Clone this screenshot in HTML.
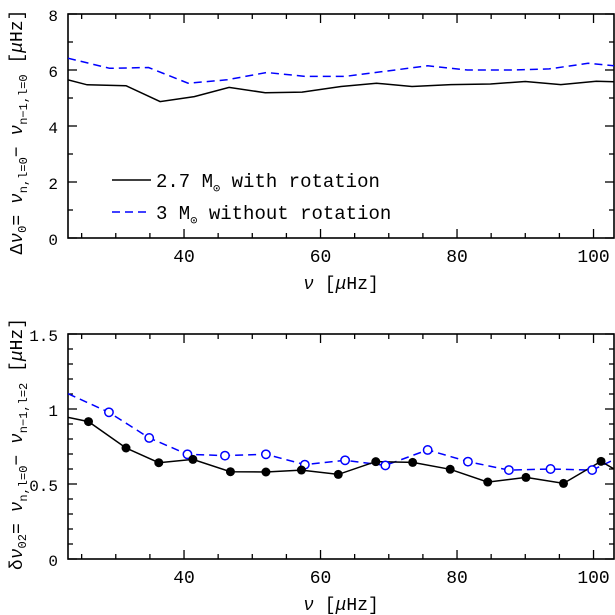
<!DOCTYPE html>
<html><head><meta charset="utf-8"><style>
html,body{margin:0;padding:0;background:#fff;}
svg{display:block;font-family:"Liberation Mono",monospace;}
</style></head><body>
<svg id="c" width="615" height="615" viewBox="0 0 615 615"></svg>
<script>
const topX=[23,25.8,31.5,36.5,41.5,46.6,51.9,57.3,63,68.2,73.4,79.1,84.9,90,95.2,100.4,103];
const topBlack=[5.65,5.47,5.44,4.87,5.05,5.38,5.19,5.21,5.41,5.53,5.41,5.48,5.50,5.59,5.48,5.6,5.58];
const topBX=[23,29.1,34.8,40.6,46.3,52.1,57.8,63.6,69.3,75.7,81.5,87.8,93.5,99.2,103];
const topBlue=[6.42,6.06,6.09,5.53,5.65,5.91,5.77,5.77,5.95,6.15,6.0,6.0,6.04,6.24,6.15];
const botKX=[23,26,31.5,36.3,41.3,46.8,52,57.2,62.6,68.1,73.5,79,84.5,90.1,95.6,101.1,103];
const botBlack=[0.944,0.916,0.74,0.642,0.664,0.582,0.58,0.593,0.564,0.649,0.644,0.598,0.513,0.544,0.504,0.651,0.6];
const botBX=[23,29,34.9,40.5,46,52,57.7,63.6,69.5,75.7,81.6,87.6,93.7,99.8,103];
const botBlue=[1.102,0.978,0.807,0.698,0.689,0.698,0.629,0.658,0.624,0.727,0.649,0.593,0.6,0.593,0.662];
const xTicks=[40,60,80,100];
const topYTicks=[0,2,4,6,8];
const botYTicks=["0","0.5","1","1.5"];

const NS="http://www.w3.org/2000/svg";
const svg=document.getElementById('c');
function mk(t,a,p){const e=document.createElementNS(NS,t);for(const k in a)e.setAttribute(k,a[k]);(p||svg).appendChild(e);return e;}
const L=68,R=614,XMIN=23,XMAX=103;
const sx=v=>L+(v-XMIN)/(XMAX-XMIN)*(R-L);

function panel(name,T,B,ymax,ymin,minorY,majorY,yLabels,yLabelVals){
  const sy=v=>B-(v-ymin)/(ymax-ymin)*(B-T);
  const g=mk('g',{});
  
  
  const fr=mk('rect',{x:L,y:T,width:R-L,height:B-T,fill:'none',stroke:'#000','stroke-width':1.6},g);
  
  
  for(let v=25;v<=XMAX;v+=5){const x=sx(v);const len=(v%20===0)?9:5;
    mk('line',{x1:x,y1:B,x2:x,y2:B-len,stroke:'#000','stroke-width':1.3},g);
    mk('line',{x1:x,y1:T,x2:x,y2:T+len,stroke:'#000','stroke-width':1.3},g);}
  xTicks.forEach(v=>{const t=mk('text',{x:sx(v),y:B+24,'text-anchor':'middle','font-size':18},g);t.textContent=v;
    
    });
  for(let i=0;i*minorY<=ymax-ymin+1e-9;i++){const v=ymin+i*minorY;const y=sy(v);
    const maj=Math.abs(Math.round(v/majorY)*majorY-v)<1e-6;const len=maj?9:5;
    mk('line',{x1:L,y1:y,x2:L+len,y2:y,stroke:'#000','stroke-width':1.3},g);
    mk('line',{x1:R,y1:y,x2:R-len,y2:y,stroke:'#000','stroke-width':1.3},g);}
  yLabels.forEach((s,i)=>{const t=mk('text',{x:L-10,y:sy(yLabelVals[i])+7,'text-anchor':'end','font-size':16},g);t.textContent=s;
    
    });
  const xl=mk('text',{x:(L+R)/2,y:B+51,'text-anchor':'middle','font-size':18},g);
  xl.innerHTML='<tspan font-style="italic">ν</tspan> [<tspan font-style="italic">μ</tspan>Hz]';
  
  
  const cp=mk('clipPath',{id:'cp'+name},g);mk('rect',{x:L,y:T,width:R-L,height:B-T},cp);
  const sg=mk('g',{'clip-path':'url(#cp'+name+')'},g);
  return {sy,sg,g};
}
function line(p,xs,ys,col,dash,name){
  const d=xs.map((x,i)=>(i?'L':'M')+sx(x).toFixed(1)+','+p.sy(ys[i]).toFixed(1)).join('');
  const e=mk('path',{d,fill:'none',stroke:col,'stroke-width':1.5,'stroke-dasharray':dash||'none'},p.sg);
  
  
}
const p1=panel('top-panel',14,238,8,0,1,2,topYTicks.map(String),topYTicks);
line(p1,topBX,topBlue,'#0000ff','8,5','blue-line-top');
line(p1,topX,topBlack,'#000','','black-line-top');
const lg=mk('g',{});


mk('line',{x1:112,y1:180,x2:151,y2:180,stroke:'#000','stroke-width':1.5},lg);
let t=mk('text',{x:156,y:187,'font-size':19},lg);
t.innerHTML='2.7 M<tspan font-size="12" dy="5">⊙</tspan><tspan dy="-5"> with rotation</tspan>';


mk('line',{x1:112,y1:212,x2:151,y2:212,stroke:'#0000ff','stroke-width':1.5,'stroke-dasharray':'8,5'},lg);
t=mk('text',{x:156,y:219,'font-size':19},lg);
t.innerHTML='3 M<tspan font-size="12" dy="5">⊙</tspan><tspan dy="-5"> without rotation</tspan>';


t=mk('text',{x:0,y:0,'font-size':18,'text-anchor':'middle',transform:'translate(22,132) rotate(-90)'});
t.innerHTML='Δ<tspan font-style="italic">ν</tspan><tspan font-size="12" dy="4">0</tspan><tspan dy="-4">= </tspan><tspan font-style="italic">ν</tspan><tspan font-size="12" dy="5">n,l=0</tspan><tspan dy="-5">− </tspan><tspan font-style="italic">ν</tspan><tspan font-size="12" dy="5">n−1,l=0</tspan><tspan dy="-5"> [</tspan><tspan font-style="italic">μ</tspan>Hz]';


const p2=panel('bottom-panel',334,559,1.5,0,0.1,0.5,botYTicks,botYTicks.map(Number));
line(p2,botBX,botBlue,'#0000ff','8,5','blue-line-bottom');
line(p2,botKX,botBlack,'#000','','black-line-bottom');
for(let i=1;i<botBX.length-1;i++){
  const c=mk('circle',{cx:sx(botBX[i]),cy:p2.sy(botBlue[i]),r:4.2,fill:'#fff',stroke:'#0000ff','stroke-width':1.5},p2.sg);
  
  
}
for(let i=1;i<botKX.length-1;i++){
  const c=mk('circle',{cx:sx(botKX[i]),cy:p2.sy(botBlack[i]),r:4.5,fill:'#000'},p2.sg);
  
  
}
t=mk('text',{x:0,y:0,'font-size':18,'text-anchor':'middle',transform:'translate(22,444) rotate(-90)'});
t.innerHTML='δ<tspan font-style="italic">ν</tspan><tspan font-size="12" dy="4">02</tspan><tspan dy="-4">= </tspan><tspan font-style="italic">ν</tspan><tspan font-size="12" dy="5">n,l=0</tspan><tspan dy="-5">− </tspan><tspan font-style="italic">ν</tspan><tspan font-size="12" dy="5">n−1,l=2</tspan><tspan dy="-5"> [</tspan><tspan font-style="italic">μ</tspan>Hz]';


</script>
</body></html>
